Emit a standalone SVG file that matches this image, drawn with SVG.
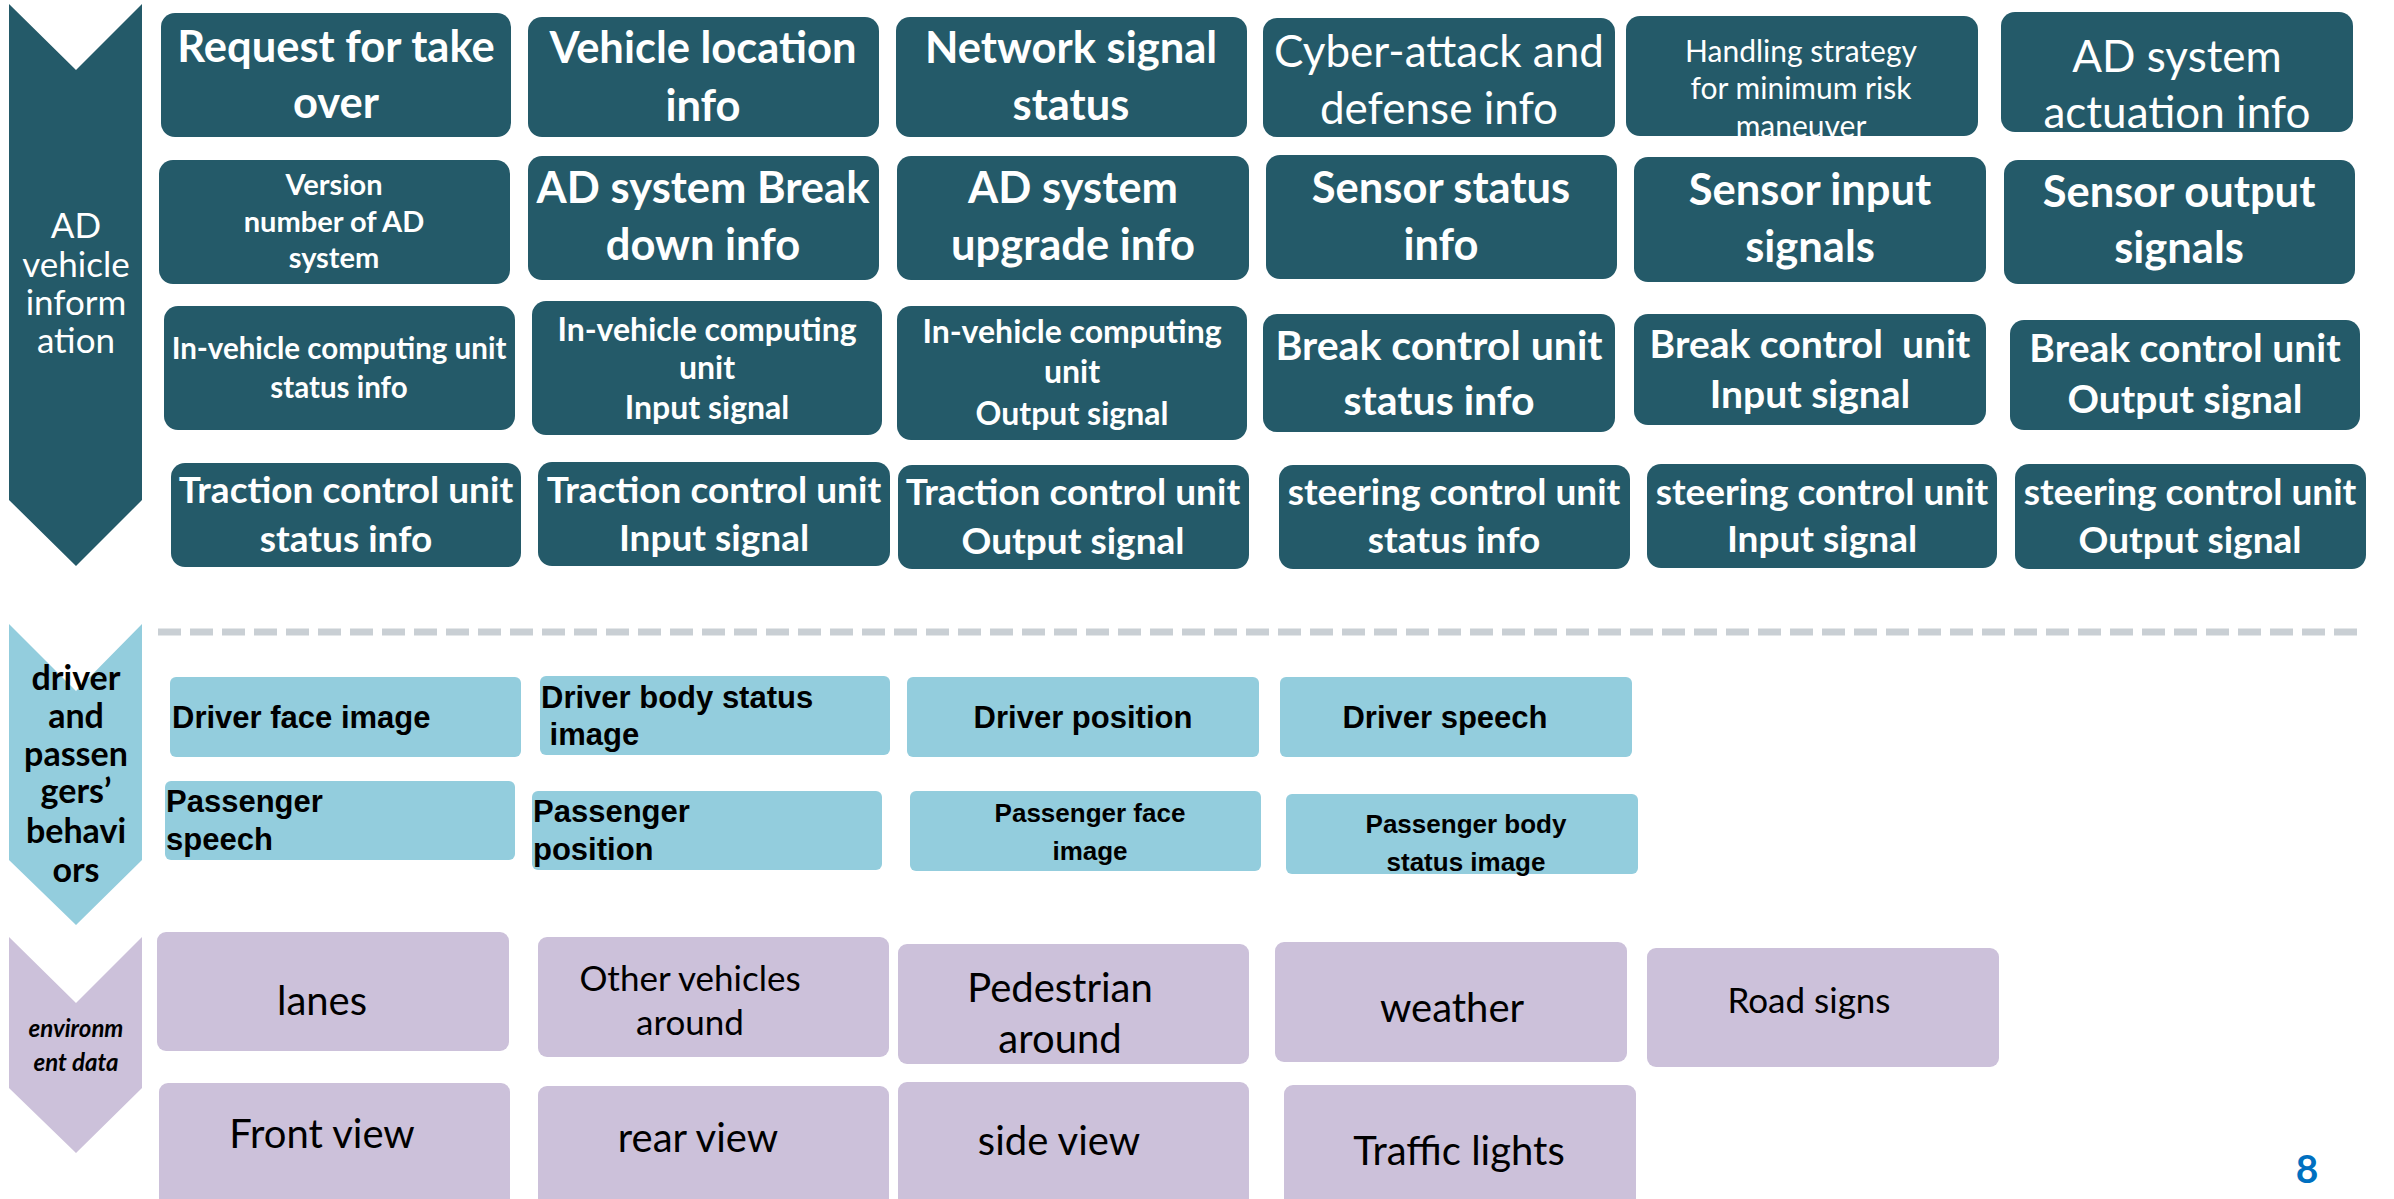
<svg xmlns="http://www.w3.org/2000/svg" width="2394" height="1199" viewBox="0 0 2394 1199">
<style>
.bg{fill:#FFFFFF}
.teal{fill:#245A69}
.blue{fill:#93CDDD}
.purple{fill:#CCC1DA}
.wb{font-family:Lato,"Open Sans",sans-serif;font-weight:700;fill:#FFFFFF;text-anchor:middle}
.wr{font-family:Lato,"Open Sans",sans-serif;font-weight:400;fill:#FFFFFF;text-anchor:middle}
.kb{font-family:"Liberation Sans",Arial,sans-serif;font-weight:700;fill:#000000}
.kr{font-family:Lato,"Open Sans",sans-serif;font-weight:400;fill:#000000;text-anchor:middle;font-size:40px}
.lbl{font-family:Lato,"Open Sans",sans-serif;text-anchor:middle}
.dash{stroke:#C9CFD4;stroke-width:7;stroke-dasharray:23 9;fill:none}
</style>
<rect class="bg" x="0" y="0" width="2394" height="1199"/>

<!-- Section arrows -->
<g id="arrow-ad">
<polygon class="teal" points="9,4 76,70 142,4 142,500 76,566 9,500"/>
<text class="lbl" font-size="35" fill="#FFFFFF"><tspan x="76" y="238">AD</tspan><tspan x="76" y="277">vehicle</tspan><tspan x="76" y="315">inform</tspan><tspan x="76" y="353">ation</tspan></text>
</g>
<g id="arrow-driver">
<polygon class="blue" points="9,624 76,691 142,624 142,860 76,925 9,860"/>
<text class="lbl" font-size="34" font-weight="700" fill="#000000"><tspan x="76" y="690">driver</tspan><tspan x="76" y="728">and</tspan><tspan x="76" y="766">passen</tspan><tspan x="76" y="803">gers’</tspan><tspan x="76" y="843">behavi</tspan><tspan x="76" y="882">ors</tspan></text>
</g>
<g id="arrow-env">
<polygon class="purple" points="9,937 76,1003 142,937 142,1088 76,1153 9,1088"/>
<text class="lbl" font-size="24" font-weight="700" font-style="italic" fill="#000000"><tspan x="76" y="1037">environm</tspan><tspan x="76" y="1071">ent data</tspan></text>
</g>

<!-- Separator -->
<g id="connectors">
<line class="dash" x1="158" y1="632" x2="2362" y2="632"/>
</g>

<!-- Row 1 -->
<g id="n-request"><rect class="teal" x="161" y="13" width="350" height="124" rx="14"/>
<text class="wb" font-size="43.5"><tspan x="336" y="62">Request for take</tspan><tspan x="336" y="118">over</tspan></text></g>
<g id="n-location"><rect class="teal" x="528" y="17" width="351" height="120" rx="14"/>
<text class="wb" font-size="43.5"><tspan x="703" y="63">Vehicle location</tspan><tspan x="703" y="121">info</tspan></text></g>
<g id="n-network"><rect class="teal" x="896" y="17" width="351" height="120" rx="14"/>
<text class="wb" font-size="43.5"><tspan x="1071" y="63">Network signal</tspan><tspan x="1071" y="120">status</tspan></text></g>
<g id="n-cyber"><rect class="teal" x="1263" y="18" width="352" height="119" rx="14"/>
<text class="wr" font-size="44"><tspan x="1439" y="67">Cyber-attack and</tspan><tspan x="1439" y="124">defense info</tspan></text></g>
<g id="n-handling"><rect class="teal" x="1626" y="16" width="352" height="120" rx="14"/>
<text class="wr" font-size="30"><tspan x="1801" y="62">Handling strategy</tspan><tspan x="1801" y="99">for minimum risk</tspan><tspan x="1801" y="137">maneuver</tspan></text></g>
<g id="n-actuation"><rect class="teal" x="2001" y="12" width="352" height="120" rx="14"/>
<text class="wr" font-size="44"><tspan x="2177" y="72">AD system</tspan><tspan x="2177" y="128">actuation info</tspan></text></g>

<!-- Row 2 -->
<g id="n-version"><rect class="teal" x="159" y="160" width="351" height="124" rx="14"/>
<text class="wb" font-size="29"><tspan x="334" y="195">Version</tspan><tspan x="334" y="232">number of AD</tspan><tspan x="334" y="268">system</tspan></text></g>
<g id="n-breakdown"><rect class="teal" x="528" y="156" width="351" height="124" rx="14"/>
<text class="wb" font-size="43.5"><tspan x="703" y="203">AD system Break</tspan><tspan x="703" y="260">down info</tspan></text></g>
<g id="n-upgrade"><rect class="teal" x="897" y="156" width="352" height="124" rx="14"/>
<text class="wb" font-size="43.5"><tspan x="1073" y="203">AD system</tspan><tspan x="1073" y="260">upgrade info</tspan></text></g>
<g id="n-sensor-status"><rect class="teal" x="1266" y="155" width="351" height="124" rx="14"/>
<text class="wb" font-size="43.5"><tspan x="1441" y="203">Sensor status</tspan><tspan x="1441" y="260">info</tspan></text></g>
<g id="n-sensor-input"><rect class="teal" x="1634" y="157" width="352" height="125" rx="14"/>
<text class="wb" font-size="43.5"><tspan x="1810" y="205">Sensor input</tspan><tspan x="1810" y="262">signals</tspan></text></g>
<g id="n-sensor-output"><rect class="teal" x="2004" y="160" width="351" height="124" rx="14"/>
<text class="wb" font-size="43.5"><tspan x="2179" y="207">Sensor output</tspan><tspan x="2179" y="263">signals</tspan></text></g>

<!-- Row 3 -->
<g id="n-ivcu-status"><rect class="teal" x="164" y="306" width="351" height="124" rx="14"/>
<text class="wb" font-size="29.5"><tspan x="339" y="359">In-vehicle computing unit</tspan><tspan x="339" y="398">status info</tspan></text></g>
<g id="n-ivcu-input"><rect class="teal" x="532" y="301" width="350" height="134" rx="14"/>
<text class="wb" font-size="32"><tspan x="707" y="341">In-vehicle computing</tspan><tspan x="707" y="379">unit</tspan><tspan x="707" y="419">Input signal</tspan></text></g>
<g id="n-ivcu-output"><rect class="teal" x="897" y="306" width="350" height="134" rx="14"/>
<text class="wb" font-size="32"><tspan x="1072" y="343">In-vehicle computing</tspan><tspan x="1072" y="383">unit</tspan><tspan x="1072" y="425">Output signal</tspan></text></g>
<g id="n-bcu-status"><rect class="teal" x="1263" y="314" width="352" height="118" rx="14"/>
<text class="wb" font-size="41"><tspan x="1439" y="360">Break control unit</tspan><tspan x="1439" y="415">status info</tspan></text></g>
<g id="n-bcu-input"><rect class="teal" x="1634" y="314" width="352" height="111" rx="14"/>
<text class="wb" font-size="39" style="white-space:pre"><tspan x="1810" y="358">Break control  unit</tspan><tspan x="1810" y="408">Input signal</tspan></text></g>
<g id="n-bcu-output"><rect class="teal" x="2010" y="320" width="350" height="110" rx="14"/>
<text class="wb" font-size="39"><tspan x="2185" y="362">Break control unit</tspan><tspan x="2185" y="413">Output signal</tspan></text></g>

<!-- Row 4 -->
<g id="n-tcu-status"><rect class="teal" x="171" y="463" width="350" height="104" rx="14"/>
<text class="wb" font-size="37"><tspan x="346" y="503">Traction control unit</tspan><tspan x="346" y="552">status info</tspan></text></g>
<g id="n-tcu-input"><rect class="teal" x="538" y="462" width="352" height="104" rx="14"/>
<text class="wb" font-size="37"><tspan x="714" y="503">Traction control unit</tspan><tspan x="714" y="551">Input signal</tspan></text></g>
<g id="n-tcu-output"><rect class="teal" x="898" y="465" width="351" height="104" rx="14"/>
<text class="wb" font-size="37"><tspan x="1073" y="505">Traction control unit</tspan><tspan x="1073" y="554">Output signal</tspan></text></g>
<g id="n-scu-status"><rect class="teal" x="1279" y="465" width="351" height="104" rx="14"/>
<text class="wb" font-size="37"><tspan x="1454" y="505">steering control unit</tspan><tspan x="1454" y="553">status info</tspan></text></g>
<g id="n-scu-input"><rect class="teal" x="1647" y="464" width="350" height="104" rx="14"/>
<text class="wb" font-size="37"><tspan x="1822" y="505">steering control unit</tspan><tspan x="1822" y="552">Input signal</tspan></text></g>
<g id="n-scu-output"><rect class="teal" x="2015" y="464" width="351" height="105" rx="14"/>
<text class="wb" font-size="37"><tspan x="2190" y="505">steering control unit</tspan><tspan x="2190" y="553">Output signal</tspan></text></g>

<!-- Driver / passengers -->
<g id="n-driver-face"><rect class="blue" x="170" y="677" width="351" height="80" rx="6"/>
<text class="kb" font-size="31" x="172" y="728">Driver face image</text></g>
<g id="n-driver-body"><rect class="blue" x="540" y="676" width="350" height="79" rx="6"/>
<text class="kb" font-size="31" style="white-space:pre"><tspan x="541" y="708">Driver body status</tspan><tspan x="541" y="745"> image</tspan></text></g>
<g id="n-driver-position"><rect class="blue" x="907" y="677" width="352" height="80" rx="6"/>
<text class="kb" font-size="31" text-anchor="middle" x="1083" y="728">Driver position</text></g>
<g id="n-driver-speech"><rect class="blue" x="1280" y="677" width="352" height="80" rx="6"/>
<text class="kb" font-size="31" text-anchor="middle" x="1445" y="728">Driver speech</text></g>
<g id="n-passenger-speech"><rect class="blue" x="165" y="781" width="350" height="79" rx="6"/>
<text class="kb" font-size="31"><tspan x="166" y="812">Passenger</tspan><tspan x="166" y="850">speech</tspan></text></g>
<g id="n-passenger-position"><rect class="blue" x="532" y="791" width="350" height="79" rx="6"/>
<text class="kb" font-size="31"><tspan x="533" y="822">Passenger</tspan><tspan x="533" y="860">position</tspan></text></g>
<g id="n-passenger-face"><rect class="blue" x="910" y="791" width="351" height="80" rx="6"/>
<text class="kb" font-size="26" text-anchor="middle"><tspan x="1090" y="822">Passenger face</tspan><tspan x="1090" y="860">image</tspan></text></g>
<g id="n-passenger-body"><rect class="blue" x="1286" y="794" width="352" height="80" rx="6"/>
<text class="kb" font-size="26" text-anchor="middle"><tspan x="1466" y="833">Passenger body</tspan><tspan x="1466" y="871">status image</tspan></text></g>

<!-- Environment -->
<g id="n-lanes"><rect class="purple" x="157" y="932" width="352" height="119" rx="9"/>
<text class="kr" x="322" y="1015">lanes</text></g>
<g id="n-other-vehicles"><rect class="purple" x="538" y="937" width="351" height="120" rx="9"/>
<text class="kr" font-size="35" style="font-size:35px"><tspan x="690" y="991">Other vehicles</tspan><tspan x="690" y="1035">around</tspan></text></g>
<g id="n-pedestrian"><rect class="purple" x="898" y="944" width="351" height="120" rx="9"/>
<text class="kr"><tspan x="1060" y="1002">Pedestrian</tspan><tspan x="1060" y="1053">around</tspan></text></g>
<g id="n-weather"><rect class="purple" x="1275" y="942" width="352" height="120" rx="9"/>
<text class="kr" x="1452" y="1022">weather</text></g>
<g id="n-road-signs"><rect class="purple" x="1647" y="948" width="352" height="119" rx="9"/>
<text class="kr" style="font-size:35px" x="1809" y="1013">Road signs</text></g>
<g id="n-front-view"><rect class="purple" x="159" y="1083" width="351" height="130" rx="9"/>
<text class="kr" x="322" y="1148">Front view</text></g>
<g id="n-rear-view"><rect class="purple" x="538" y="1086" width="351" height="130" rx="9"/>
<text class="kr" x="698" y="1152">rear view</text></g>
<g id="n-side-view"><rect class="purple" x="898" y="1082" width="351" height="130" rx="9"/>
<text class="kr" x="1059" y="1155">side view</text></g>
<g id="n-traffic-lights"><rect class="purple" x="1284" y="1085" width="352" height="130" rx="9"/>
<text class="kr" x="1459" y="1165">Traffic lights</text></g>

<text id="page-number" x="2307" y="1183" font-family="Lato,'Open Sans',sans-serif" font-weight="700" font-size="39" fill="#0070C0" text-anchor="middle">8</text>
</svg>
